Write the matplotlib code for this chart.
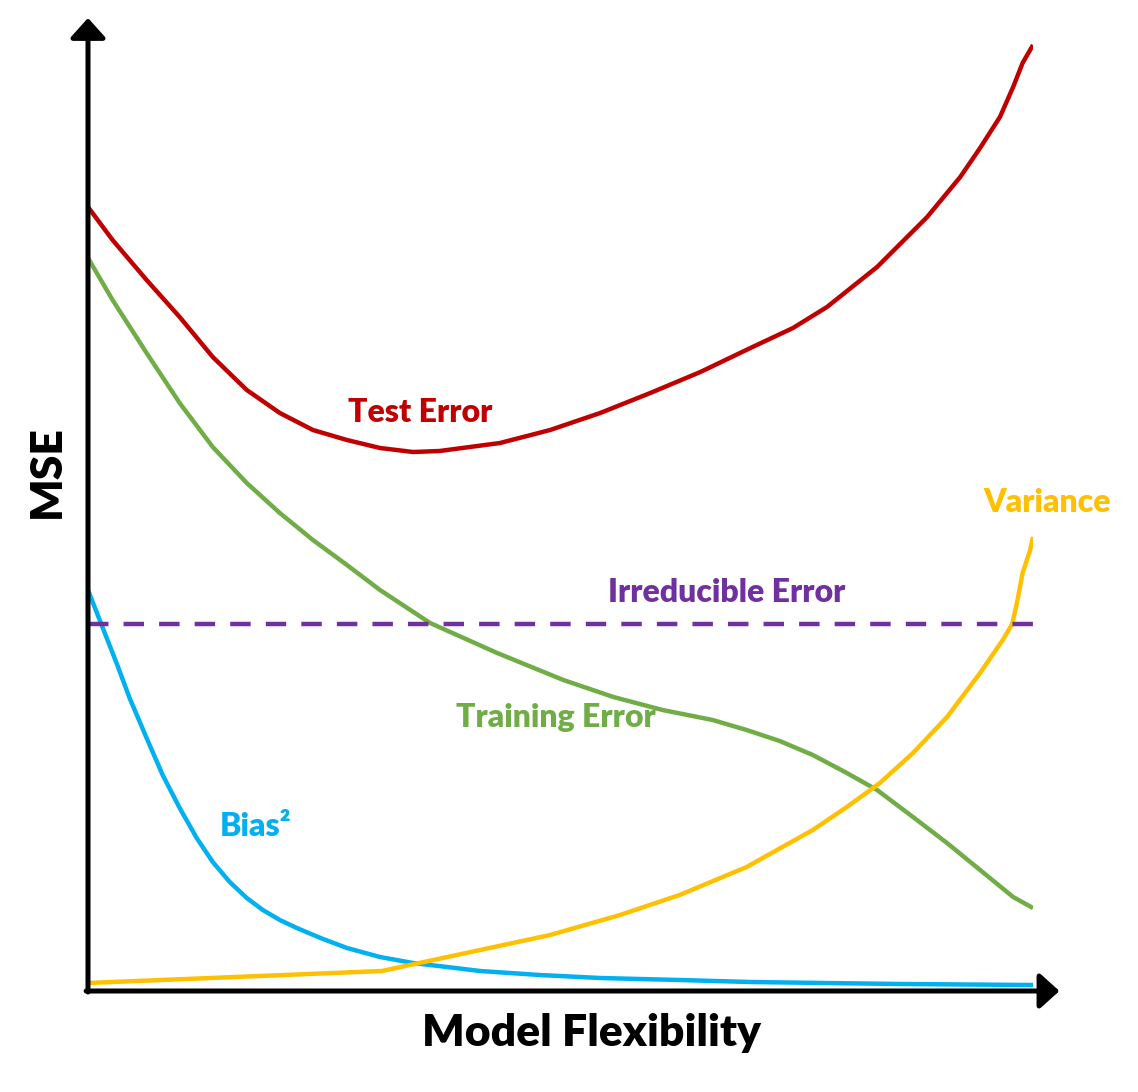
import matplotlib
matplotlib.use("Agg")
import matplotlib.pyplot as plt

plt.rcParams['font.family'] = ['Lato', 'DejaVu Sans']
plt.rcParams['font.weight'] = 'heavy'

# model flexibility (0-100) and MSE values
test_x = [0, 2.6, 6.2, 9.7, 13.2, 16.8, 20.3, 23.8, 27.4, 30.9, 34.4, 37.2, 40.4,
          43.6, 48.9, 54.2, 59.5, 64.8, 70.1, 74.6, 78.2, 83.5, 88.8, 92.3, 94.4,
          96.5, 97.9, 98.9, 100]
test_y = [7.83, 7.50, 7.10, 6.73, 6.33, 6.00, 5.77, 5.60, 5.50, 5.42, 5.38, 5.39, 5.43,
          5.47, 5.60, 5.77, 5.97, 6.18, 6.42, 6.62, 6.83, 7.23, 7.73, 8.13, 8.42,
          8.73, 9.03, 9.27, 9.45]

train_x = [0, 2.6, 6.2, 9.7, 13.2, 16.8, 20.3, 23.8, 27.4, 30.9, 36.2, 43.3, 50.3,
           55.6, 60.8, 66.1, 69.7, 73.2, 76.7, 80.3, 83.5, 87.3, 90.9, 94.4, 97.9, 100]
train_y = [7.32, 6.90, 6.37, 5.87, 5.43, 5.07, 4.77, 4.50, 4.25, 4.00, 3.67, 3.37, 3.10,
           2.93, 2.80, 2.70, 2.60, 2.49, 2.35, 2.17, 2.00, 1.73, 1.47, 1.20, 0.93, 0.82]

bias_x = [0, 1.4, 3.1, 4.4, 6.2, 7.9, 9.7, 11.5, 13.2, 15.0, 16.8, 18.5, 20.3,
          22.1, 24.6, 27.4, 30.9, 34.4, 38.0, 41.5, 47.8, 54.2, 62.6, 70.1, 85.9, 100]
bias_y = [4.00, 3.66, 3.25, 2.92, 2.52, 2.15, 1.82, 1.52, 1.28, 1.08, 0.92, 0.80, 0.70,
          0.62, 0.52, 0.42, 0.33, 0.27, 0.23, 0.19, 0.15, 0.12, 0.10, 0.08, 0.06, 0.05]

var_x = [0, 31.1, 41.5, 48.9, 56.3, 62.6, 69.7, 76.7, 80.3, 83.8, 87.3, 90.9, 94.4,
         96.8, 97.8, 98.3, 98.9, 99.7, 100]
var_y = [0.07, 0.19, 0.40, 0.55, 0.75, 0.95, 1.23, 1.60, 1.83, 2.07, 2.37, 2.73, 3.17,
         3.50, 3.66, 3.87, 4.17, 4.40, 4.53]

irreducible = 3.66

RED = '#C00000'
GREEN = '#70AD47'
BLUE = '#00B0F0'
YELLOW = '#FFC000'
PURPLE = '#7030A0'

fig = plt.figure(figsize=(11.38, 10.92), dpi=100)
ax = fig.add_axes([88 / 1138, 102 / 1092, 945 / 1138, 950 / 1092])
ax.set_xlim(0, 100)
ax.set_ylim(0, 9.5)
ax.axis('off')

lw = 3.2
style = dict(lw=lw, solid_capstyle='butt', solid_joinstyle='round')
ax.plot(test_x, test_y, color=RED, **style)
ax.plot(train_x, train_y, color=GREEN, **style)
ax.plot(bias_x, bias_y, color=BLUE, **style)
ax.plot(var_x, var_y, color=YELLOW, **style)
ax.plot([0, 100], [irreducible, irreducible], color=PURPLE, lw=lw,
        dashes=(4.6, 3.4), dash_capstyle='butt')

# axes with arrow heads
arrow = dict(arrowstyle='-|>,head_length=0.3,head_width=0.27', color='black',
             lw=3.6, mutation_scale=40, shrinkA=0, shrinkB=0)
ax.annotate('', xy=(0, 9.72), xytext=(0, -0.02), arrowprops=arrow,
            annotation_clip=False)
ax.annotate('', xy=(102.8, -0.01), xytext=(-0.2, -0.01), arrowprops=arrow,
            annotation_clip=False)

fs = 23
ax.text(35.1, 5.78, 'Test Error', color=RED, fontsize=fs, ha='center', va='center')
ax.text(67.6, 3.97, 'Irreducible Error', color=PURPLE, fontsize=fs, ha='center', va='center')
ax.text(49.5, 2.73, 'Training Error', color=GREEN, fontsize=fs, ha='center', va='center')
ax.text(17.7, 1.63, 'Bias²', color=BLUE, fontsize=fs, ha='center', va='center')
ax.text(101.5, 4.87, 'Variance', color=YELLOW, fontsize=fs, ha='center', va='center',
        clip_on=False)

fig.text(47 / 1138, 1 - 472 / 1092, 'MSE', fontsize=32, rotation=90,
         ha='center', va='center')
fig.text(592 / 1138, 1 - 1033 / 1092, 'Model Flexibility', fontsize=32,
         ha='center', va='center')

fig.savefig('out.png', dpi=100)
